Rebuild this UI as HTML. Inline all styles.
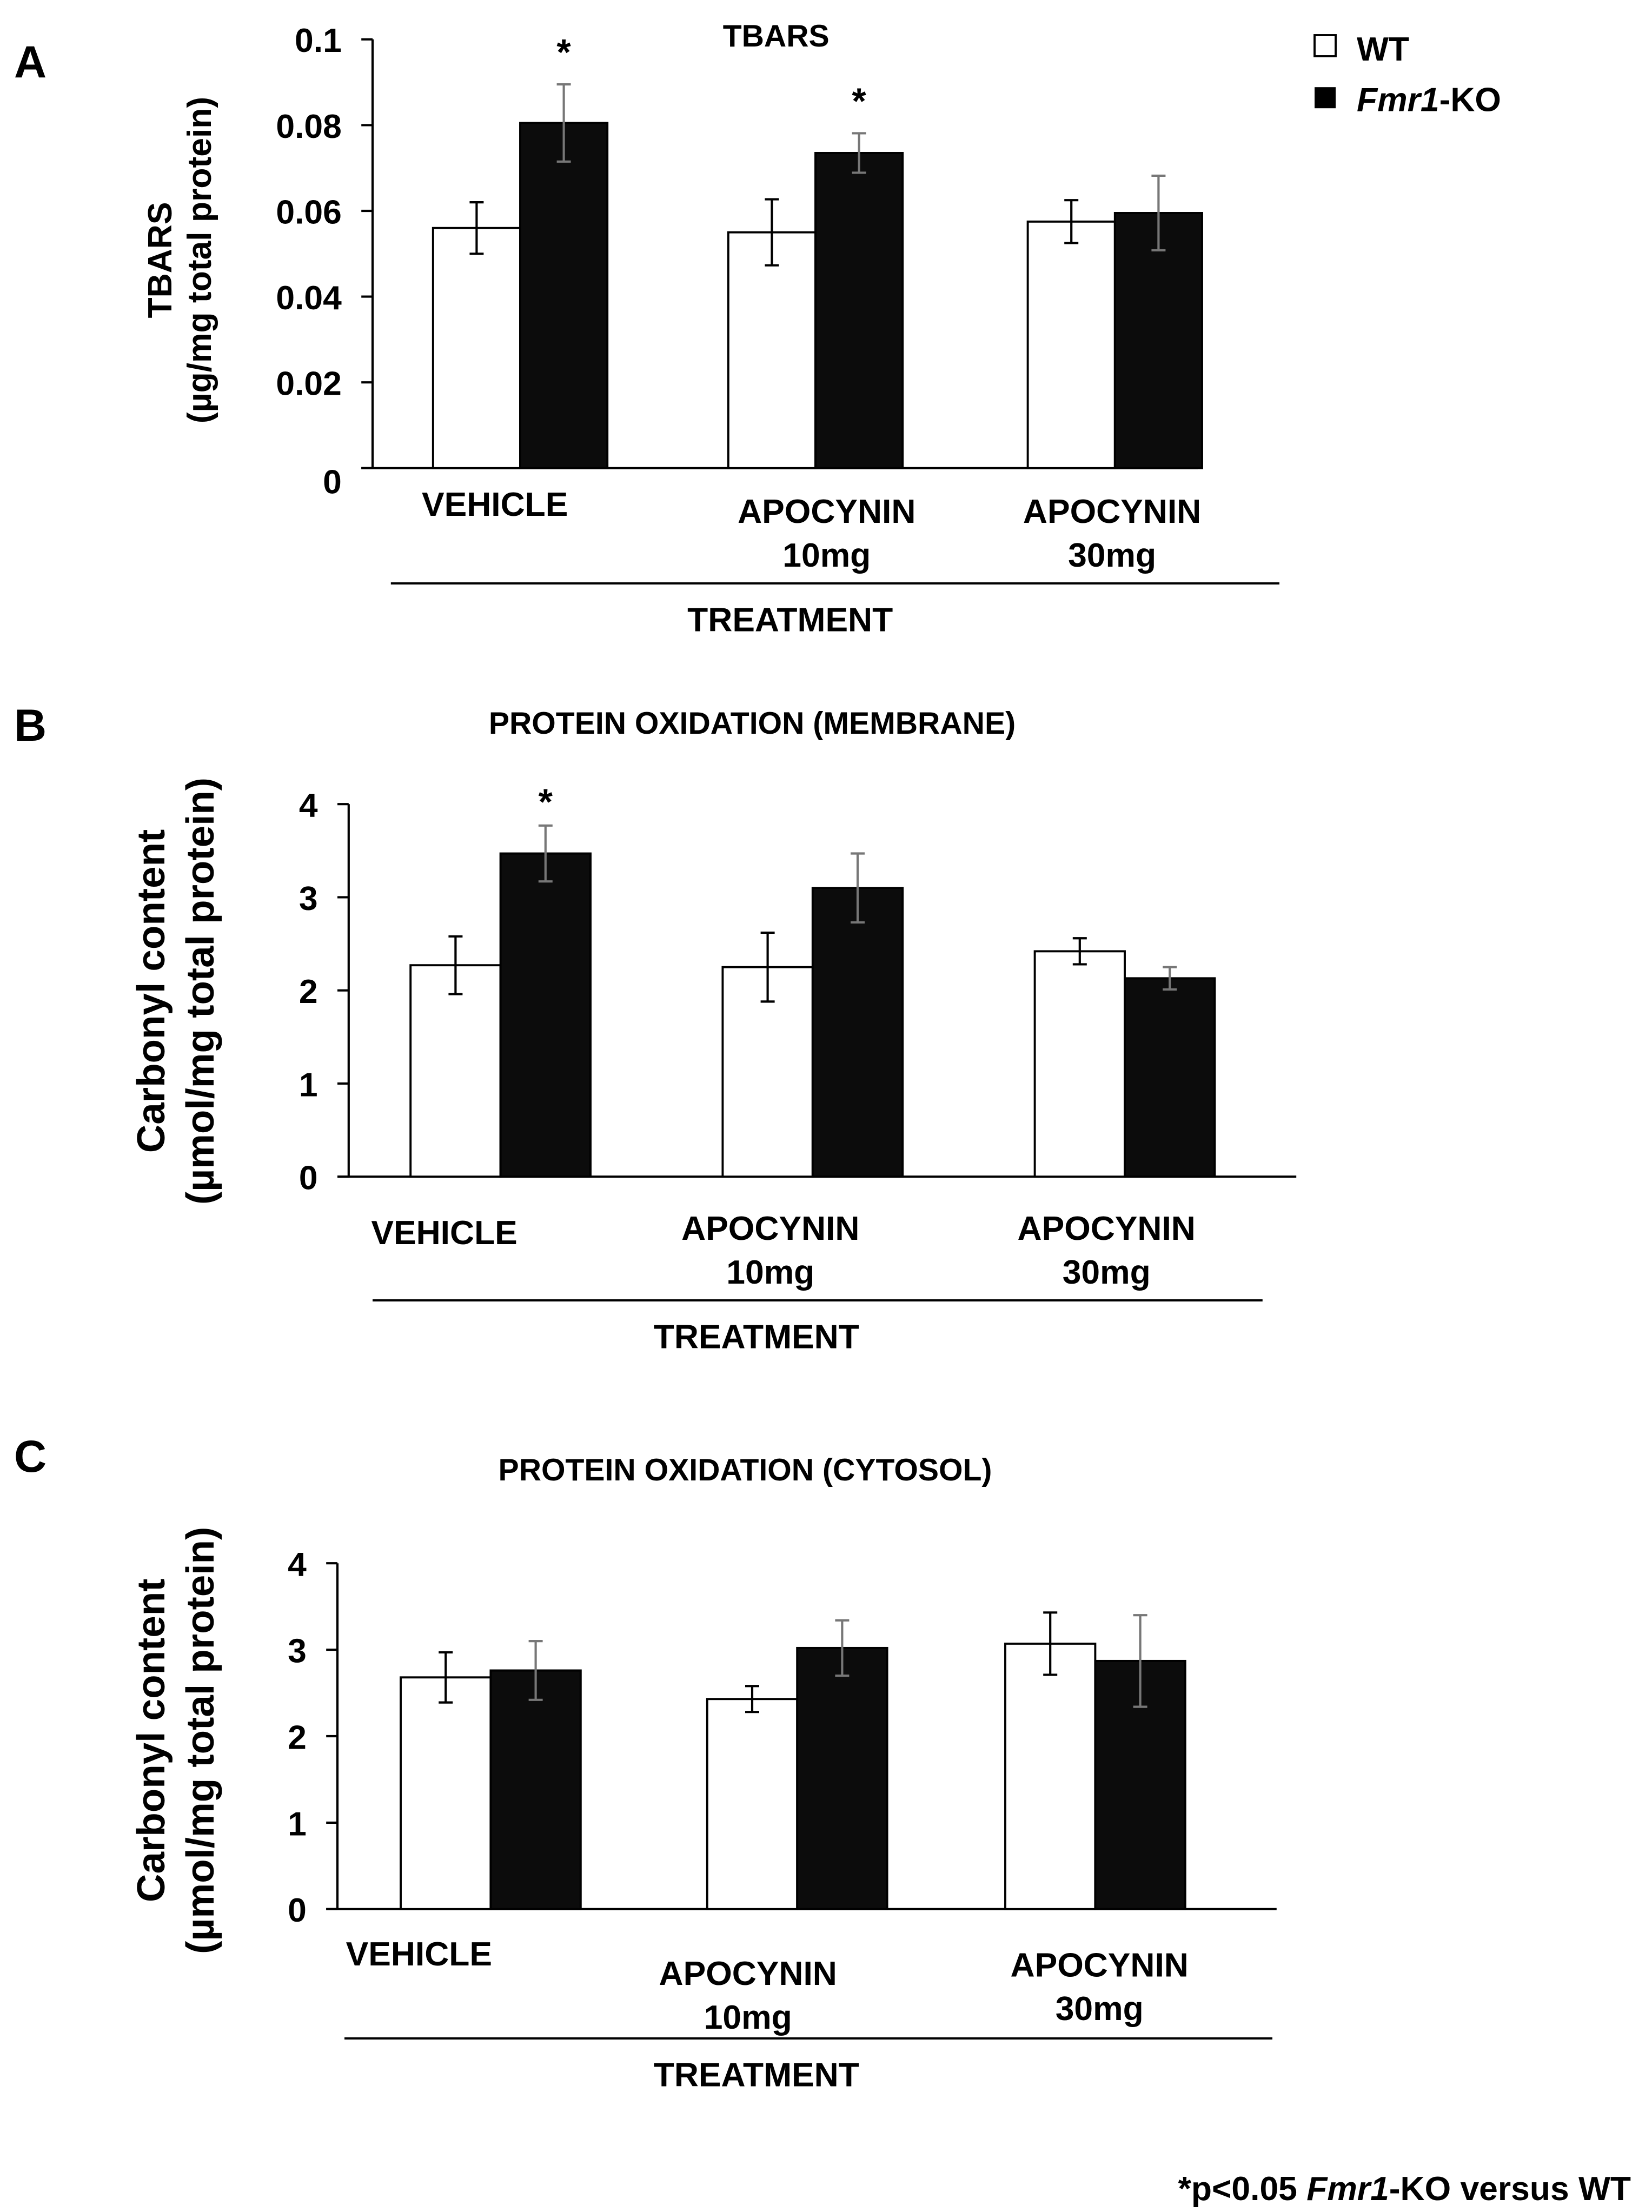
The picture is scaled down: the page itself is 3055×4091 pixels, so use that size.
<!DOCTYPE html>
<html><head><meta charset="utf-8"><style>
html,body{margin:0;padding:0;background:#fff}
svg{display:block}
text{font-family:"Liberation Sans",Arial,sans-serif;font-weight:bold;fill:#000}
</style></head><body>
<svg id="fig" width="3055" height="4091" viewBox="0 0 1175 1573.46" preserveAspectRatio="none">
<text x="10" y="55" font-size="32">A</text>
<text x="10" y="527" font-size="32">B</text>
<text x="10" y="1047" font-size="32">C</text>
<g>
<rect x="935" y="25" width="15" height="15" fill="#fff" stroke="#000" stroke-width="1.5"/>
<text x="965" y="43" font-size="24">WT</text>
<rect x="935" y="62" width="15" height="15" fill="#000"/>
<text x="965" y="79" font-size="24"><tspan font-style="italic">Fmr1</tspan>-KO</text>
</g>
<text x="1160" y="1565" font-size="24" text-anchor="end">*p&lt;0.05 <tspan font-style="italic">Fmr1</tspan>-KO versus WT</text>
</svg>
<script>
const NS="http://www.w3.org/2000/svg";
const svg=document.getElementById('fig');
// Panel A data
const catsA=["VEHICLE","APOCYNIN|10mg","APOCYNIN|30mg"];
const wtA=[0.056,0.055,0.0575];
const koA=[0.0805,0.0735,0.0595];
const wtErrA=[0.006,0.0077,0.005];
const koErrA=[0.009,0.0046,0.0087];
const ticksA=["0","0.02","0.04","0.06","0.08","0.1"];
const tickValsA=[0,0.02,0.04,0.06,0.08,0.1];
const starsA=[true,true,false];
// Panel B data
const catsB=["VEHICLE","APOCYNIN|10mg","APOCYNIN|30mg"];
const wtB=[2.27,2.25,2.42];
const koB=[3.47,3.1,2.13];
const wtErrB=[0.31,0.37,0.14];
const koErrB=[0.3,0.37,0.12];
const ticksB=["0","1","2","3","4"];
const tickValsB=[0,1,2,3,4];
const starsB=[true,false,false];
// Panel C data
const catsC=["VEHICLE","APOCYNIN|10mg","APOCYNIN|30mg"];
const wtC=[2.68,2.43,3.07];
const koC=[2.76,3.02,2.87];
const wtErrC=[0.29,0.15,0.36];
const koErrC=[0.34,0.32,0.53];
const ticksC=["0","1","2","3","4"];
const tickValsC=[0,1,2,3,4];
const starsC=[false,false,false];

function el(tag,attrs,parent){const e=document.createElementNS(NS,tag);for(const k in attrs)e.setAttribute(k,attrs[k]);(parent||svg).appendChild(e);return e;}
function txt(s,attrs,parent){const e=el('text',attrs,parent);e.textContent=s;return e;}

function panel(cfg){
  const g=el('g',{});
  
  
  const y=v=>cfg.y0-(v-cfg.vmin)/(cfg.vmax-cfg.vmin)*(cfg.y0-cfg.y1);
  const ax=el('line',{x1:cfg.ax,y1:y(cfg.vmax),x2:cfg.ax,y2:cfg.y0,stroke:'#000','stroke-width':1.6},g);
  
  const xa=el('line',{x1:cfg.ax-8,y1:cfg.y0,x2:cfg.xend,y2:cfg.y0,stroke:'#000','stroke-width':1.6},g);
  
  cfg.tickVals.forEach((v,i)=>{
    const t=el('line',{x1:cfg.ax-8,y1:y(v),x2:cfg.ax,y2:y(v),stroke:'#000','stroke-width':1.6},g);
    
    const l=txt(cfg.ticks[i],{x:cfg.ax-22,y:y(v)+(i==0?cfg.zeroOff:9),'font-size':24,'text-anchor':'end'},g);
    
  });
  cfg.cats.forEach((c,i)=>{
    const x=cfg.groupX[i];
    const w=cfg.bw;
    const b1=el('rect',{x:x,y:y(cfg.wt[i]),width:w,height:cfg.y0-y(cfg.wt[i]),fill:'#fff',stroke:'#000','stroke-width':1.5},g);
    
    const b2=el('rect',{x:x+w,y:y(cfg.ko[i]),width:w,height:cfg.y0-y(cfg.ko[i]),fill:'#0c0c0c',stroke:'#000','stroke-width':1.5},g);
    
    [[x+w/2,cfg.wt[i],cfg.wtErr[i]],[x+1.5*w,cfg.ko[i],cfg.koErr[i]]].forEach(([cx,v,e],k)=>{
      const p=el('path',{d:`M${cx},${y(v+e)}V${y(v-e)}M${cx-5},${y(v+e)}H${cx+5}M${cx-5},${y(v-e)}H${cx+5}`,stroke:k?'#777':'#000','stroke-width':1.6,fill:'none'},g);
      
    });
    if(cfg.stars[i]){
      const s=txt('*',{x:x+1.5*w,y:y(cfg.ko[i]+cfg.koErr[i])-cfg.starOff,'font-size':26,'text-anchor':'middle',fill:'#333'},g);
      
    }
    const parts=c.split('|');
    parts.forEach((p,j)=>{
      const t=txt(p,{x:cfg.labX[i],y:cfg.labY[i]+j*31,'font-size':24,'text-anchor':'middle'},g);
      
    });
  });
  const tl=el('line',{x1:cfg.line[0],y1:cfg.line[2],x2:cfg.line[1],y2:cfg.line[2],stroke:'#000','stroke-width':1.5},g);
  
  const tt=txt('TREATMENT',{x:cfg.treatX,y:cfg.line[2]+34,'font-size':24,'text-anchor':'middle'},g);
  
  const ti=txt(cfg.title,{x:cfg.titleX,y:cfg.titleY,'font-size':cfg.titleSize,'text-anchor':'middle'},g);
  
  cfg.ytitle.forEach((s,j)=>{
    const t=txt(s,{x:0,y:0,'font-size':cfg.ytSize,'text-anchor':'middle',transform:`translate(${cfg.ytX[j]},${cfg.ytY}) rotate(-90)`},g);
    
  });
}
panel({name:'panel-a-tbars',cats:catsA,wt:wtA,ko:koA,wtErr:wtErrA,koErr:koErrA,ticks:ticksA,tickVals:tickValsA,stars:starsA,
  vmin:0,vmax:0.1,y0:333,y1:28,ax:265,xend:852,groupX:[308,518,731],bw:62,zeroOff:18,starOff:14,
  labX:[352,588,791],labY:[367,372,372],line:[278,910,415],treatX:562,title:'TBARS',titleX:552,titleY:33,titleSize:22,
  ytitle:['TBARS','(µg/mg total protein)'],ytX:[122,150],ytY:185,ytSize:24});
panel({name:'panel-b-membrane',cats:catsB,wt:wtB,ko:koB,wtErr:wtErrB,koErr:koErrB,ticks:ticksB,tickVals:tickValsB,stars:starsB,
  vmin:0,vmax:4,y0:837,y1:572,ax:248,xend:922,groupX:[292,514,736],bw:64,zeroOff:9,starOff:8,
  labX:[316,548,787],labY:[885,882,882],line:[265,898,925],treatX:538,title:'PROTEIN OXIDATION (MEMBRANE)',titleX:535,titleY:522,titleSize:22,
  ytitle:['Carbonyl content','(µmol/mg total protein)'],ytX:[117,152],ytY:705,ytSize:28});
panel({name:'panel-c-cytosol',cats:catsC,wt:wtC,ko:koC,wtErr:wtErrC,koErr:koErrC,ticks:ticksC,tickVals:tickValsC,stars:starsC,
  vmin:0,vmax:4,y0:1358,y1:1112,ax:240,xend:908,groupX:[285,503,715],bw:64,zeroOff:9,starOff:8,
  labX:[298,532,782],labY:[1398,1412,1406],line:[245,905,1450],treatX:538,title:'PROTEIN OXIDATION (CYTOSOL)',titleX:530,titleY:1053,titleSize:22,
  ytitle:['Carbonyl content','(µmol/mg total protein)'],ytX:[117,152],ytY:1238,ytSize:28});
</script>
</body></html>
